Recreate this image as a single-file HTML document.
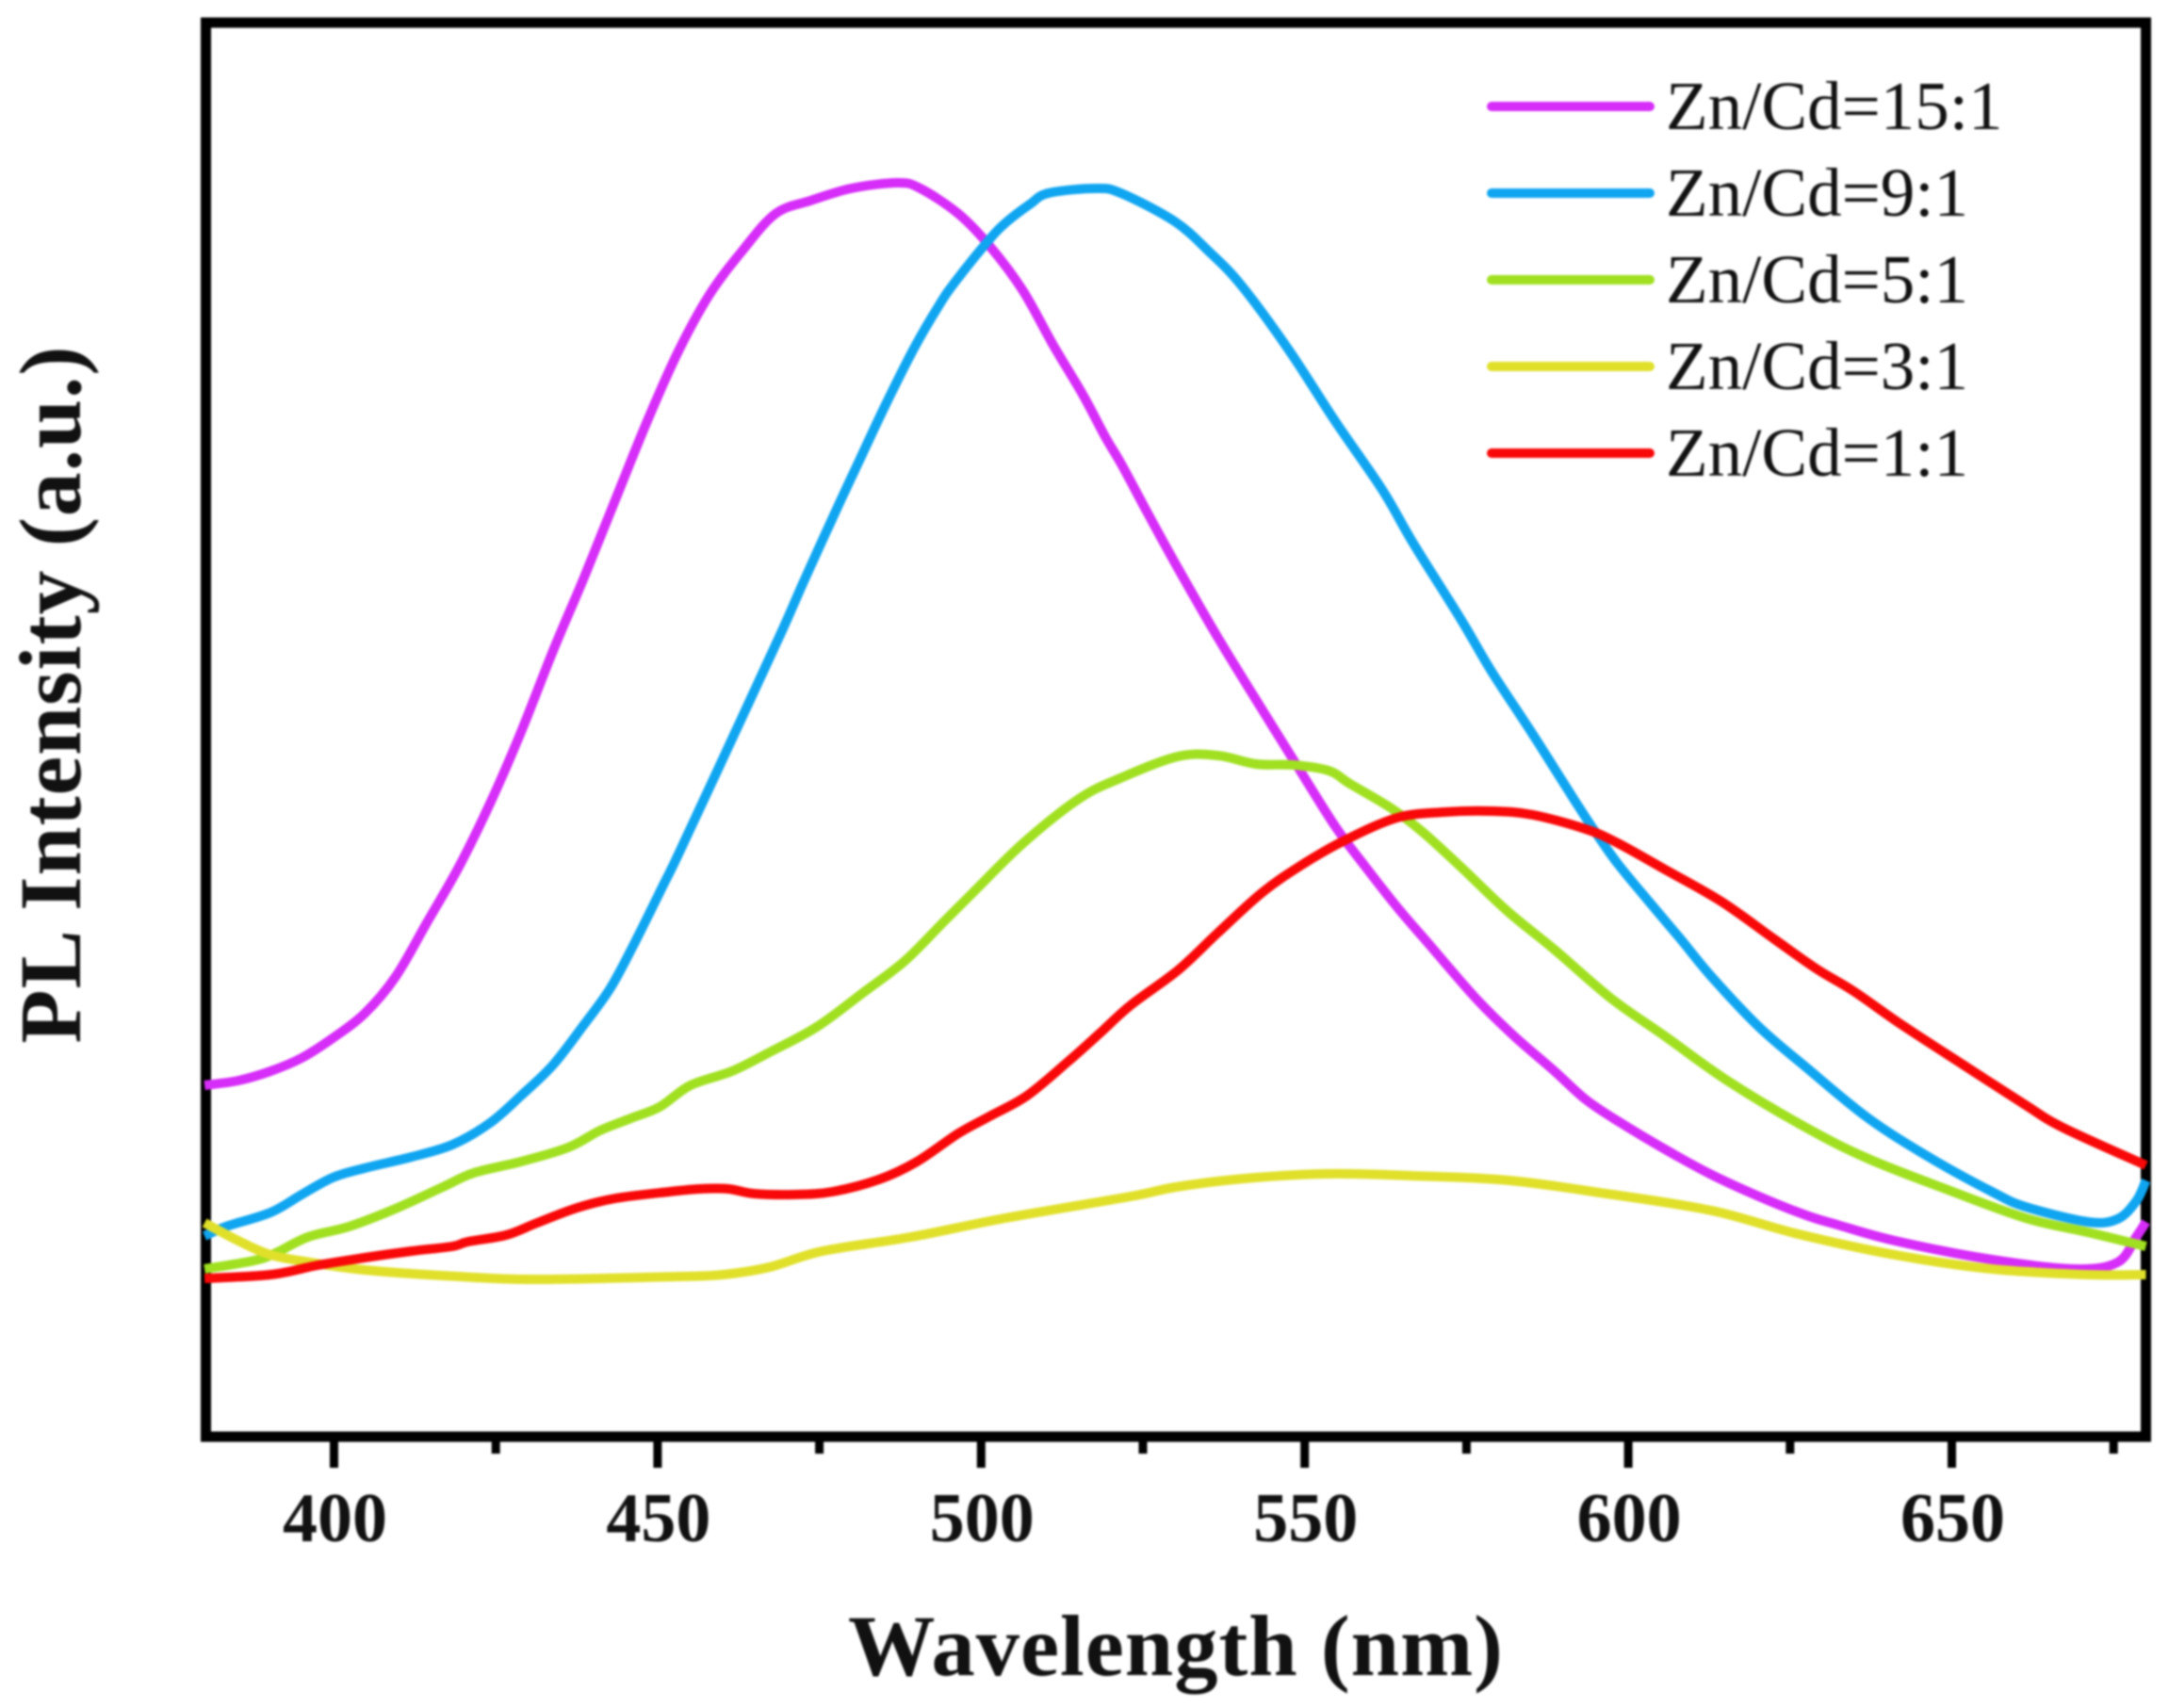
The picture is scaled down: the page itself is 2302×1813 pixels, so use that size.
<!DOCTYPE html>
<html>
<head>
<meta charset="utf-8">
<title>PL spectra</title>
<style>
html,body{margin:0;padding:0;background:#fff;width:2302px;height:1813px;overflow:hidden}
svg{display:block;filter:blur(1px)}
text{font-family:"Liberation Serif",serif;fill:#111}
</style>
</head>
<body>
<svg id="chart" xmlns="http://www.w3.org/2000/svg" width="2302" height="1813" viewBox="0 0 2302 1813">
<rect x="0" y="0" width="2302" height="1813" fill="#fff"/>
<rect x="218.5" y="24" width="2059" height="1501" fill="none" stroke="#000" stroke-width="11"/>
<g id="ticks"></g>
<g id="series"></g>
<g id="legend"></g>
<text x="1248" y="1778" text-anchor="middle" font-size="92.5" font-weight="bold" letter-spacing="1">Wavelength (nm)</text>
<text transform="translate(85,737) rotate(-90)" text-anchor="middle" font-size="93.5" font-weight="bold" letter-spacing="1">PL Intensity (a.u.)</text>
</svg>
<script>
const majorTicks = [400, 450, 500, 550, 600, 650];
const minorTicks = [425, 475, 525, 575, 625, 675];
const seriesLabels = ["Zn/Cd=15:1", "Zn/Cd=9:1", "Zn/Cd=5:1", "Zn/Cd=3:1", "Zn/Cd=1:1"];
const seriesColors = ["#d62df8", "#10a5f0", "#a0e020", "#e0e02a", "#f80808"];

const wl15 = [380,385.2,390.2,395,399.8,404.7,409.5,414.3,419.3,424.1,428.9,433.9,438.7,443.5,448.4,453.2,458,463,468.2,473.6,479.9,487.1,490.6,496.5,501.3,506.4,511.2,515.8,519.2,521.7,525.6,530.4,536.6,542.5,548.3,554.7,559.5,564.3,569.3,576.5,582.4,588.6,593.4,598.4,605.7,612.9,620.2,627.5,632.3,641.2,656.2,669,675.6,678.5,680];
const pl15 = [375,380,390,404,425,451,490,547,607,674,750,837,915,997,1080,1154,1214,1260,1300,1314,1327,1333,1327,1300,1266,1219,1160,1107,1063,1034,984,924,850,784,720,650,606,564,524,467,427,390,360,337,307,280,257,237,227,210,190,180,187,214,230];

const wl9 = [380,383.3,390.2,395,399.8,404.7,412,418.3,424.1,428.9,433.9,438.7,442.6,446,450.7,453.2,461.2,469.2,472.6,477.5,481.3,485.2,489.6,493.5,495.9,500.8,503.7,507.5,510.4,517.7,521.6,529.9,535.2,540.1,547.4,554.7,562,566.8,574.1,578.9,585.3,591.1,594.9,598.4,603.2,608,612.9,620.2,627.5,637.1,646.9,656.2,661.4,671,675.6,678.5,680];
const pl9 = [215,225,240,259,277,287,299,312,335,364,397,440,477,520,585,620,738,857,910,984,1040,1097,1157,1203,1227,1269,1290,1310,1322,1327,1322,1292,1260,1225,1157,1080,1007,950,870,814,747,684,644,610,570,531,490,437,394,340,297,262,246,230,233,252,274];

const wl5 = [380,387.7,391,396,402.3,409.5,416.8,421.6,428.9,436.2,441.1,445.9,450.3,455.1,461.5,467.3,474.6,481.9,488.2,494,498.8,506.5,515.1,521.5,530.4,536.6,542.5,548.3,553.7,557,563.4,568.2,574.1,581.3,588.6,597.4,605.7,615.3,627.5,637.1,649.4,661.4,671,680];
const pl5 = [180,189,197,214,225,244,267,282,294,309,327,340,352,375,390,410,437,474,507,547,580,632,679,701,724,725,716,715,709,695,669,644,607,560,519,467,427,380,330,297,264,234,219,204];

const wl3 = [380,385.2,390.2,396.4,404.7,419.3,431.4,453.2,460.1,467.3,475.5,489.2,503.7,523.1,530.1,540.7,553.5,566.4,581.6,596.6,612.9,626.3,641.2,656.2,671,680];
const pl3 = [229,210,195,187,179,172,169,172,174,182,199,214,234,257,267,276,281,279,274,260,242,217,195,180,174,174];

const wl1 = [380,390.2,397.5,404.7,412,418.3,420.7,426.6,431.4,437.6,443.5,451.8,456.6,460.9,464.9,471.1,477,484.2,490.1,496.5,501.3,507.1,513.4,518.3,523.1,530.4,536.6,543.5,549.8,556.2,564.3,571.6,578.9,585.3,593.4,598.4,605.7,614.4,622.6,629,634.8,642.1,651.7,661.4,667.2,680];
const pl1 = [170,174,184,192,199,204,209,216,229,245,255,262,265,265,260,259,262,275,294,324,342,364,400,430,460,497,537,580,610,635,659,665,666,662,647,632,604,570,530,499,475,440,397,354,330,290];

const wavelengths = [wl15, wl9, wl5, wl3, wl1];
const intensities = [pl15, pl9, pl5, pl3, pl1];

const SVGNS = "http://www.w3.org/2000/svg";
function xScale(w){ return 354.5 + (w - 400) * 6.868; }
function yScale(v){ return 1527 - v; }

function smoothPath(pts){
  let d = "M" + pts[0][0].toFixed(1) + " " + pts[0][1].toFixed(1);
  for (let i = 0; i < pts.length - 1; i++){
    const p0 = pts[Math.max(i - 1, 0)];
    const p1 = pts[i];
    const p2 = pts[i + 1];
    const p3 = pts[Math.min(i + 2, pts.length - 1)];
    const c1x = p1[0] + (p2[0] - p0[0]) / 6;
    const c1y = p1[1] + (p2[1] - p0[1]) / 6;
    const c2x = p2[0] - (p3[0] - p1[0]) / 6;
    const c2y = p2[1] - (p3[1] - p1[1]) / 6;
    d += "C" + c1x.toFixed(1) + " " + c1y.toFixed(1) + " " + c2x.toFixed(1) + " " + c2y.toFixed(1) + " " + p2[0].toFixed(1) + " " + p2[1].toFixed(1);
  }
  return d;
}

const ticksG = document.getElementById("ticks");
majorTicks.forEach(function(t){
  const ln = document.createElementNS(SVGNS, "line");
  
  
  ln.setAttribute("x1", xScale(t));
  ln.setAttribute("x2", xScale(t));
  ln.setAttribute("y1", 1528);
  ln.setAttribute("y2", 1558);
  ln.setAttribute("stroke", "#000");
  ln.setAttribute("stroke-width", 9);
  ticksG.appendChild(ln);
  const tx = document.createElementNS(SVGNS, "text");
  
  
  tx.setAttribute("x", xScale(t) + 1);
  tx.setAttribute("y", 1636);
  tx.setAttribute("text-anchor", "middle");
  tx.setAttribute("font-size", 74);
  tx.setAttribute("font-weight", "bold");
  tx.textContent = t;
  ticksG.appendChild(tx);
});
minorTicks.forEach(function(t){
  const ln = document.createElementNS(SVGNS, "line");
  
  
  ln.setAttribute("x1", xScale(t));
  ln.setAttribute("x2", xScale(t));
  ln.setAttribute("y1", 1528);
  ln.setAttribute("y2", 1543);
  ln.setAttribute("stroke", "#000");
  ln.setAttribute("stroke-width", 9);
  ticksG.appendChild(ln);
});

const seriesG = document.getElementById("series");
seriesLabels.forEach(function(label, i){
  const pts = wavelengths[i].map(function(w, j){ return [xScale(w), yScale(intensities[i][j])]; });
  const path = document.createElementNS(SVGNS, "path");
  
  
  path.setAttribute("d", smoothPath(pts));
  path.setAttribute("fill", "none");
  path.setAttribute("stroke", seriesColors[i]);
  path.setAttribute("stroke-width", 10);
  path.setAttribute("stroke-linejoin", "round");
  seriesG.appendChild(path);
});

const legendG = document.getElementById("legend");
seriesLabels.forEach(function(label, i){
  const ly = 113 + i * 92;
  const ln = document.createElementNS(SVGNS, "line");
  
  
  ln.setAttribute("x1", 1583);
  ln.setAttribute("x2", 1751);
  ln.setAttribute("y1", ly);
  ln.setAttribute("y2", ly);
  ln.setAttribute("stroke", seriesColors[i]);
  ln.setAttribute("stroke-width", 10);
  ln.setAttribute("stroke-linecap", "round");
  legendG.appendChild(ln);
  const tx = document.createElementNS(SVGNS, "text");
  
  
  tx.setAttribute("x", 1768);
  tx.setAttribute("y", ly + 24);
  tx.setAttribute("font-size", 73);
  tx.textContent = label;
  legendG.appendChild(tx);
});
</script>
</body>
</html>
